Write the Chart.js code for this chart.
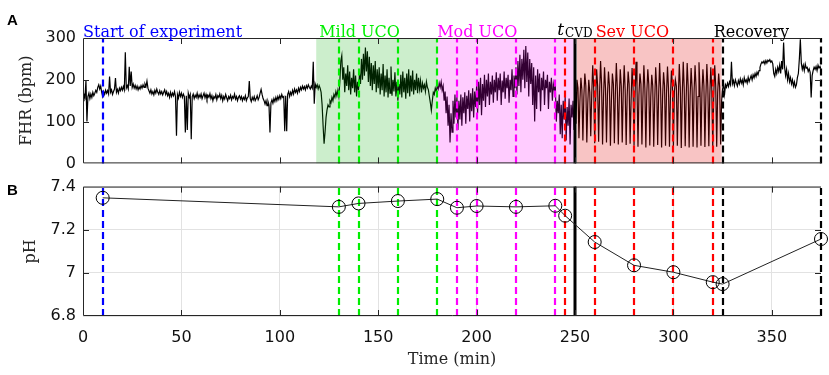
<!DOCTYPE html>
<html>
<head>
<meta charset="utf-8">
<script src="https://cdn.jsdelivr.net/npm/chart.js@4.4.1/dist/chart.umd.min.js"></script>
<style>
  html, body { margin: 0; padding: 0; background: #fff; }
  #wrap { position: relative; width: 829px; height: 375px; overflow: hidden; }
  #boxA { position: absolute; left: 0; top: 0; width: 829px; height: 180px; }
  #boxB { position: absolute; left: 0; top: 170px; width: 829px; height: 205px; }
</style>
</head>
<body>
<div id="wrap">
  <div id="boxA"><canvas id="fhr"></canvas></div>
  <div id="boxB"><canvas id="ph"></canvas></div>
</div>
<script>
// FHR trace, one value every fhrStep minutes from t = 0
const fhrStep = 0.5;
const fhrValues = [
  150,165,158,198,100,160,168,155,166,158,170,162,168,175,170,182,188,178,185,170,
  160,172,165,175,168,174,166,208,170,176,165,172,178,204,170,177,168,180,174,182,
  175,184,176,266,180,186,178,231,185,220,182,190,180,187,178,185,176,183,178,186,
  180,188,182,190,184,197,180,174,168,176,166,172,164,175,168,178,170,165,174,166,
  172,164,170,176,165,172,162,168,158,170,160,168,162,172,160,66,165,156,170,160,
  168,158,166,160,74,162,80,168,158,165,58,160,166,155,163,158,168,156,164,158,
  166,155,162,168,157,165,154,163,158,167,155,162,150,160,156,165,152,162,158,166,
  155,163,150,160,154,165,157,150,160,155,163,152,160,156,166,154,160,150,158,162,
  154,160,150,158,153,162,150,157,160,197,155,148,158,152,160,150,155,162,152,158,
  168,177,165,155,150,142,150,138,148,140,74,145,152,144,155,148,158,150,160,153,
  162,155,165,158,160,77,162,77,165,172,160,170,164,175,166,178,170,176,168,180,
  172,182,176,185,178,184,176,186,180,188,182,178,185,180,243,143,190,182,188,178,
  186,180,170,140,90,47,75,110,128,140,135,150,145,158,150,165,158,172,162,175,
  160,195,245,258,200,230,170,215,185,235,175,220,165,205,180,225,170,210,160,195,
  175,215,190,250,200,262,210,277,220,268,195,255,185,240,175,235,190,245,170,225,
  180,230,165,215,175,238,160,210,170,225,158,205,168,232,162,200,172,218,160,195,
  150,190,165,212,158,220,170,205,155,215,168,225,160,210,172,222,165,200,175,215,
  168,205,178,198,170,192,180,188,172,195,182,176,160,145,127,150,170,165,180,172,
  185,178,192,182,195,175,185,150,172,120,160,90,140,50,120,75,150,95,165,110,
  160,80,150,105,165,90,158,120,170,95,162,130,175,100,168,125,180,110,172,135,
  185,120,195,140,205,115,190,150,212,135,200,160,215,140,195,165,210,145,200,170,
  218,150,205,175,215,140,198,170,220,155,205,180,212,145,200,175,225,160,210,180,
  230,165,245,185,260,170,250,200,272,180,281,195,265,160,250,190,240,140,230,100,
  210,130,225,170,215,125,205,175,220,140,200,180,212,130,195,170,205,150,190,175,
  185,100,150,120,165,70,140,60,150,105,160,55,135,90,155,45,140,110,150,80,
  170,95,200,180,60,150,205,175,55,160,215,185,50,145,200,170,65,165,235,180,
  48,155,225,185,52,170,245,190,45,160,230,180,50,165,220,185,42,150,215,190,
  48,165,240,180,45,155,225,185,50,170,235,175,44,160,220,190,47,150,228,182,
  42,160,243,185,40,165,215,190,45,155,235,180,38,170,225,188,43,160,212,185,
  40,150,230,182,44,165,240,178,38,158,218,186,42,168,232,180,40,160,222,190,
  39,172,200,185,42,160,238,182,37,165,243,178,41,158,240,185,38,162,228,180,
  40,170,235,184,38,160,242,180,42,168,225,186,39,158,238,182,41,165,230,178,
  38,162,235,185,40,170,215,182,45,150,178,190,166,188,182,192,184,195,188,243,
  190,198,186,200,192,185,198,190,202,192,200,188,205,195,200,192,206,196,203,210,
  200,212,205,215,208,218,212,222,230,238,243,240,245,238,246,240,247,244,248,242,
  245,238,215,208,225,215,230,220,235,215,245,225,289,230,210,225,200,215,195,205,
  190,200,185,195,182,188,205,215,250,297,240,225,235,222,238,228,230,220,226,218,
  158,210,222,230,225,232,222,235,228,232,226
];

// blood samples
const phTimes  = [10, 130, 140, 160, 180, 190, 200, 220, 240, 245, 260, 280, 300, 320, 325, 375];
const phValues = [7.348, 7.306, 7.322, 7.333, 7.342, 7.302, 7.31, 7.306, 7.311, 7.265, 7.143, 7.035, 7.003, 6.957, 6.948, 7.157];

// event markers (dashed lines) and phases
const eventTimes  = [10, 130, 140, 160, 180, 190, 200, 220, 240, 245, 260, 280, 300, 320, 325, 375];
const eventPhase  = [0, 1, 1, 1, 1, 2, 2, 2, 2, 3, 3, 3, 3, 3, 4, 4];
const cvdTime = 250;
const phaseNames  = ['Start of experiment', 'Mild UCO', 'Mod UCO', 'Sev UCO', 'Recovery'];
const phaseLabelAt = [0, 120, 180, 260.5, 320.5];
const phaseStart  = [null, 118.5, 180, 251, null];
const phaseEnd    = [null, 180, 249.3, 324.5, null];

const timeTicks = [0, 50, 100, 150, 200, 250, 300, 350];
const fhrTicks  = [0, 100, 200, 300];
const phTicks   = [6.8, 7.0, 7.2, 7.4];

const phaseColors = ['#0000ff', '#00ee00', '#ff00ff', '#ff0000', '#000000'];
const patchColors = [null, 'rgba(0,170,0,0.2)', 'rgba(255,0,255,0.2)', 'rgba(225,0,0,0.23)', null];
const AXIS = '#262626';
const tickFont = {family: 'DejaVu Sans', size: 16};
const titleFont = {family: 'DejaVu Serif', size: 16};

const fhrData = fhrValues.map((v, i) => ({x: i * fhrStep, y: v}));
const phData = phTimes.map((t, i) => ({x: t, y: phValues[i]}));

function setTicks(list) {
  return scale => { scale.ticks = list.map(v => ({value: v})); };
}

function drawEvents(chart) {
  const {ctx, chartArea: a, scales: {x}} = chart;
  ctx.save();
  ctx.lineWidth = 2.2;
  ctx.setLineDash([7, 4]);
  eventTimes.forEach((t, i) => {
    const px = Math.round(x.getPixelForValue(t));
    ctx.strokeStyle = phaseColors[eventPhase[i]];
    ctx.beginPath();
    ctx.moveTo(px, a.bottom);
    ctx.lineTo(px, a.top);
    ctx.stroke();
  });
  ctx.setLineDash([]);
  ctx.lineWidth = 3;
  ctx.strokeStyle = '#000';
  const cx = x.getPixelForValue(cvdTime);
  ctx.beginPath();
  ctx.moveTo(cx, a.top);
  ctx.lineTo(cx, a.bottom);
  ctx.stroke();
  ctx.restore();
}

function drawFrame(chart, letter, yList) {
  const {ctx, chartArea: a, scales: {x, y}} = chart;
  ctx.save();
  ctx.strokeStyle = AXIS;
  ctx.lineWidth = 1;
  ctx.beginPath();
  ctx.moveTo(a.right, a.top + 0.5);
  ctx.lineTo(a.left + 0.5, a.top + 0.5);
  ctx.lineTo(a.left + 0.5, a.bottom - 0.5);
  ctx.lineTo(a.right, a.bottom - 0.5);
  ctx.stroke();
  ctx.beginPath();
  timeTicks.forEach(t => {
    const px = Math.round(x.getPixelForValue(t)) + 0.5;
    if (t === 0) return;
    ctx.moveTo(px, a.top); ctx.lineTo(px, a.top + 6);
    ctx.moveTo(px, a.bottom); ctx.lineTo(px, a.bottom - 6);
  });
  yList.forEach((v, i) => {
    if (i === 0 || i === yList.length - 1) return;
    const py = Math.round(y.getPixelForValue(v)) + 0.5;
    ctx.moveTo(a.left, py); ctx.lineTo(a.left + 6, py);
    ctx.moveTo(a.right, py); ctx.lineTo(a.right - 6, py);
  });
  ctx.stroke();
  ctx.fillStyle = '#000';
  ctx.font = 'bold 15px "Liberation Sans"';
  ctx.textBaseline = 'middle';
  ctx.fillText(letter, 7, 21);
  ctx.restore();
}

const fhrPlugin = {
  id: 'fhrPanel',
  afterDatasetsDraw(chart) {
    const {ctx, chartArea: a, scales: {x}} = chart;
    ctx.save();
    phaseStart.forEach((t0, i) => {
      if (t0 === null) return;
      const x0 = x.getPixelForValue(t0), x1 = x.getPixelForValue(phaseEnd[i]);
      ctx.fillStyle = patchColors[i];
      ctx.fillRect(x0, a.top, x1 - x0, a.bottom - a.top);
    });
    ctx.restore();
    drawEvents(chart);
  },
  afterDraw(chart) {
    drawFrame(chart, 'A', fhrTicks);
    const {ctx, scales: {x}} = chart;
    ctx.save();
    ctx.textBaseline = 'alphabetic';
    ctx.font = '16px "DejaVu Serif"';
    phaseNames.forEach((name, i) => {
      ctx.fillStyle = phaseColors[i];
      ctx.fillText(name, x.getPixelForValue(phaseLabelAt[i]), 36.5);
    });
    // t_CVD label
    const tx = x.getPixelForValue(241);
    ctx.fillStyle = '#000';
    ctx.font = 'italic 17px "DejaVu Serif"';
    ctx.fillText('t', tx, 34.5);
    const w = ctx.measureText('t').width;
    ctx.font = '12px "DejaVu Serif"';
    ctx.fillText('CVD', tx + w + 1, 37);
    ctx.restore();
  }
};

const phPlugin = {
  id: 'phPanel',
  beforeDatasetsDraw(chart) { drawEvents(chart); },
  afterDraw(chart) { drawFrame(chart, 'B', phTicks); }
};

const yTitle = (text, pad) => ({
  display: true, text, color: AXIS, font: titleFont, padding: {top: pad, bottom: 0}
});

new Chart(document.getElementById('fhr'), {
  type: 'line',
  data: {
    datasets: [{
      data: fhrData,
      borderColor: '#000',
      borderWidth: 1.2,
      pointRadius: 0,
      tension: 0
    }]
  },
  options: {
    responsive: true,
    maintainAspectRatio: false,
    animation: false,
    events: [],
    layout: {padding: {left: 0, right: 8, top: 38, bottom: 11}},
    plugins: {legend: {display: false}, tooltip: {enabled: false}},
    scales: {
      x: {type: 'linear', min: 0, max: 375, display: false, afterBuildTicks: setTicks(timeTicks)},
      y: {
        min: 0, max: 300,
        afterBuildTicks: setTicks(fhrTicks),
        afterFit: s => { s.width = 83; },
        grid: {display: false, drawTicks: false},
        border: {display: false},
        ticks: {color: '#111', font: tickFont, padding: 7},
        title: yTitle('FHR (bpm)', 17)
      }
    }
  },
  plugins: [fhrPlugin]
});

new Chart(document.getElementById('ph'), {
  type: 'line',
  data: {
    datasets: [{
      data: phData,
      borderColor: '#222',
      borderWidth: 1,
      pointRadius: 6.5,
      pointHoverRadius: 6.5,
      pointBackgroundColor: 'rgba(0,0,0,0)',
      pointBorderColor: '#000',
      pointBorderWidth: 1,
      tension: 0,
      clip: false
    }]
  },
  options: {
    responsive: true,
    maintainAspectRatio: false,
    animation: false,
    events: [],
    layout: {padding: {left: 0, right: 8, top: 16.5, bottom: 0}},
    plugins: {legend: {display: false}, tooltip: {enabled: false}},
    scales: {
      x: {
        type: 'linear', min: 0, max: 375,
        afterBuildTicks: setTicks(timeTicks),
        afterFit: s => { s.height = 59; },
        grid: {color: '#e2e2e2', drawTicks: false},
        border: {display: false},
        ticks: {color: '#111', font: tickFont, padding: 12, maxRotation: 0},
        title: {display: true, text: 'Time (min)', color: AXIS, font: titleFont, padding: {top: 0, bottom: 6}}
      },
      y: {
        min: 6.8, max: 7.4,
        afterBuildTicks: setTicks(phTicks),
        afterFit: s => { s.width = 83; },
        grid: {color: '#e2e2e2', drawTicks: false},
        border: {display: false},
        ticks: {color: '#111', font: tickFont, padding: 7, callback: v => String(Math.round(v * 10) / 10)},
        title: yTitle('pH', 21)
      }
    }
  },
  plugins: [phPlugin]
});
</script>
</body>
</html>
